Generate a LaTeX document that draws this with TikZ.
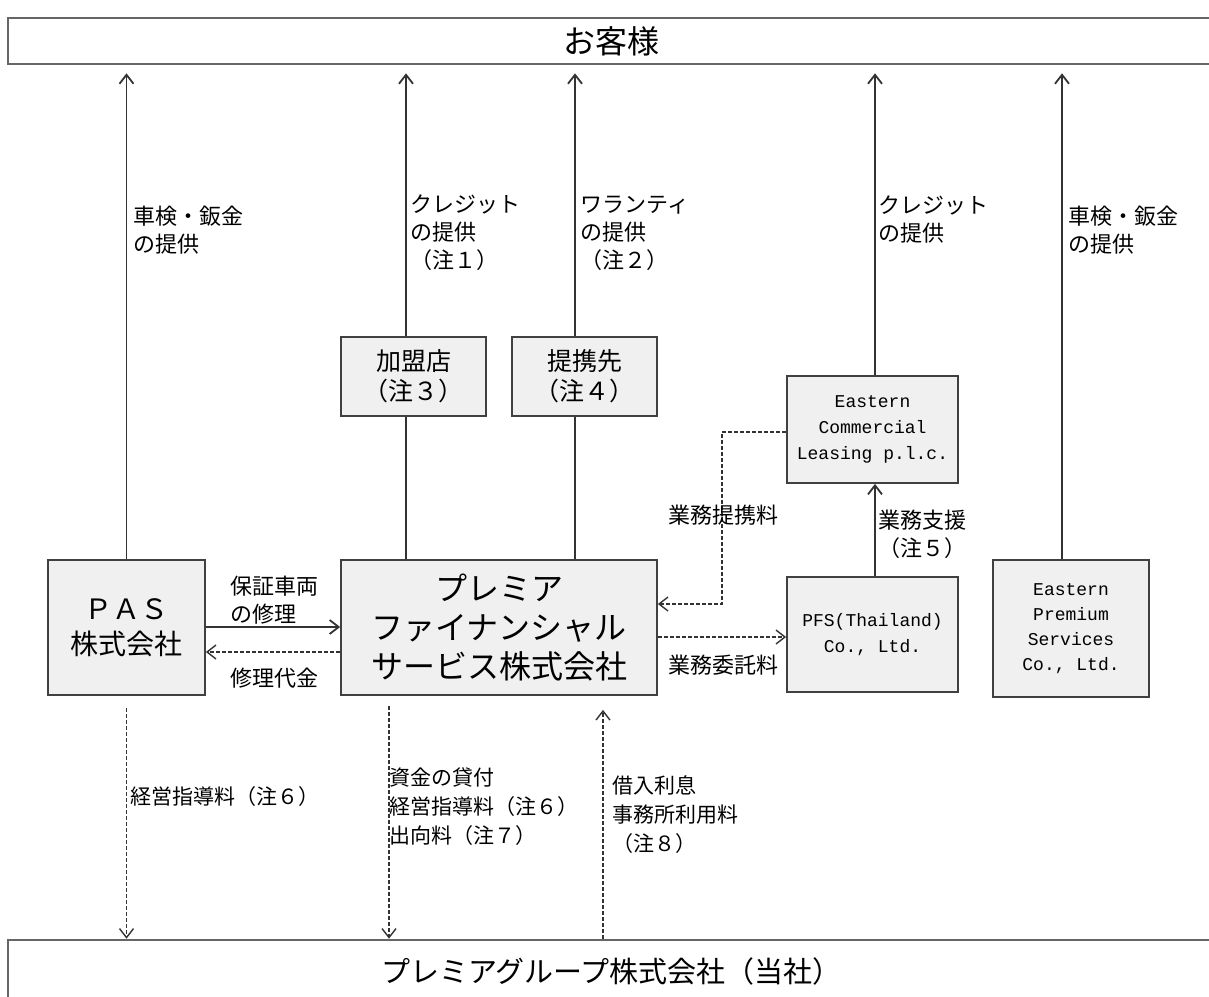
\documentclass[tikz,border=0pt]{standalone}
\usepackage{fontspec}
\setmainfont{Noto Sans CJK JP}
\newfontfamily\enmono{Liberation Mono}
\usetikzlibrary{arrows.meta}
\begin{document}
\begin{tikzpicture}[x=0.5pt,y=-0.5pt,
  box/.style={draw=black!75, line width=0.9pt, fill=black!6, inner sep=0pt, align=center},
  band/.style={draw=black!60, line width=1.3pt, fill=white, inner sep=0pt},
  lbl/.style={anchor=west, inner sep=0pt, align=left, font=\fontsize{11}{14}\selectfont},
  blbl/.style={anchor=west, inner sep=0pt, align=left, font=\fontsize{10.5}{14.5}\selectfont},
  en/.style={font=\enmono\fontsize{9}{13}\selectfont},
  conn/.style={line width=0.9pt, draw=black!80},
  arr/.style={conn, -{Straight Barb[length=4.5pt,width=7pt]}},
  darr/.style={line width=0.7pt, draw=black!80, dash pattern=on 2pt off 1pt, -{Straight Barb[length=4.5pt,width=7pt]}}
]
\useasboundingbox (0,0) rectangle (1209,996);

% bands
\node[band, minimum width=603.5pt, minimum height=23pt, font=\fontsize{16}{16}\selectfont] (cust) at (611.5,41) {お客様};
\node[band, minimum width=603.5pt, minimum height=31pt, font=\fontsize{14.5}{14.5}\selectfont] (grp) at (611.5,971) {プレミアグループ株式会社（当社）};

% boxes
\node[box, minimum width=78.5pt, minimum height=67.5pt, font=\fontsize{14}{17.5}\selectfont] (pas) at (126.5,627.5) {ＰＡＳ\\株式会社};
\node[box, minimum width=158pt, minimum height=67.5pt, font=\fontsize{16}{19.5}\selectfont] (pfs) at (499,627.5) {プレミア\\ファイナンシャル\\サービス株式会社};
\node[box, minimum width=72.5pt, minimum height=39.5pt, font=\fontsize{12.5}{15}\selectfont] (kam) at (413.5,376.5) {加盟店\\（注３）};
\node[box, minimum width=72.5pt, minimum height=39.5pt, font=\fontsize{12.5}{15}\selectfont] (tei) at (584.5,376.5) {提携先\\（注４）};
\node[box, en, minimum width=85.5pt, minimum height=53.5pt] (ecl) at (872.5,429.5) {Eastern\\Commercial\\Leasing p.l.c.};
\node[box, en, minimum width=85.5pt, minimum height=57.5pt] (pft) at (872.5,634.5) {PFS(Thailand)\\Co., Ltd.};
\node[box, en, minimum width=78pt, minimum height=68.5pt, font=\enmono\fontsize{9}{12.5}\selectfont] (eps) at (1071,628.5) {Eastern\\Premium\\Services\\Co., Ltd.};

% helper coordinates
\coordinate (xA) at (406,0);
\coordinate (xB) at (575,0);
\coordinate (xC) at (875,0);
\coordinate (xD) at (1062,0);
\coordinate (xK) at (389,0);
\coordinate (xL) at (603,0);
\coordinate (yE) at (0,627);
\coordinate (yF) at (0,652);
\coordinate (yG) at (0,432);
\coordinate (bend) at (722,604);
\coordinate (yJ) at (0,637);

% up to customers
\draw[arr, shorten >=4pt] (pas.north) -- (pas.north |- cust.south);
\draw[arr, shorten >=4pt] (kam.north -| xA) -- (cust.south -| xA);
\draw[arr, shorten >=4pt] (tei.north -| xB) -- (cust.south -| xB);
\draw[arr, shorten >=4pt] (ecl.north -| xC) -- (cust.south -| xC);
\draw[arr, shorten >=4pt] (eps.north -| xD) -- (cust.south -| xD);

% pfs to partner boxes
\draw[conn] (pfs.north -| xA) -- (kam.south -| xA);
\draw[conn] (pfs.north -| xB) -- (tei.south -| xB);
\draw[arr] (pft.north -| xC) -- (ecl.south -| xC);

% PAS <-> PFS
\draw[arr] (pas.east |- yE) -- (pfs.west |- yE);
\draw[darr] (pfs.west |- yF) -- (pas.east |- yF);

% ECL -> PFS dashed
\draw[darr] (ecl.west |- yG) -| (bend) -- (pfs.east |- bend);
% PFS -> PFT dashed
\draw[darr] (pfs.east |- yJ) -- (pft.west |- yJ);

% to / from group
\draw[darr, shorten <=6pt] (pas.south) -- (pas.south |- grp.north);
\draw[darr, shorten <=5pt] (pfs.south -| xK) -- (grp.north -| xK);
\draw[darr, shorten >=7pt] (grp.north -| xL) -- (pfs.south -| xL);

% labels
\node[lbl] (l1) at (133,230.5) {車検・鈑金\\の提供};
\node[lbl] (l2) at (410,233) {クレジット\\の提供\\（注１）};
\node[lbl] (l3) at (580,233) {ワランティ\\の提供\\（注２）};
\node[lbl] (l4) at (878,219) {クレジット\\の提供};
\node[lbl] (l5) at (1068,230.5) {車検・鈑金\\の提供};
\node[lbl] (l6) at (878,534) {業務支援\\（注５）};
\node[lbl] (l7) at (668,515) {業務提携料};
\node[lbl] (l8) at (668,665) {業務委託料};
\node[lbl] (l9) at (230,600) {保証車両\\の修理};
\node[lbl] (l10) at (230,678) {修理代金};
\node[blbl] (l11) at (130,797) {経営指導料（注６）};
\node[blbl] (l12) at (389,807) {資金の貸付\\経営指導料（注６）\\出向料（注７）};
\node[blbl] (l13) at (612,815) {借入利息\\事務所利用料\\（注８）};
\end{tikzpicture}
\end{document}
